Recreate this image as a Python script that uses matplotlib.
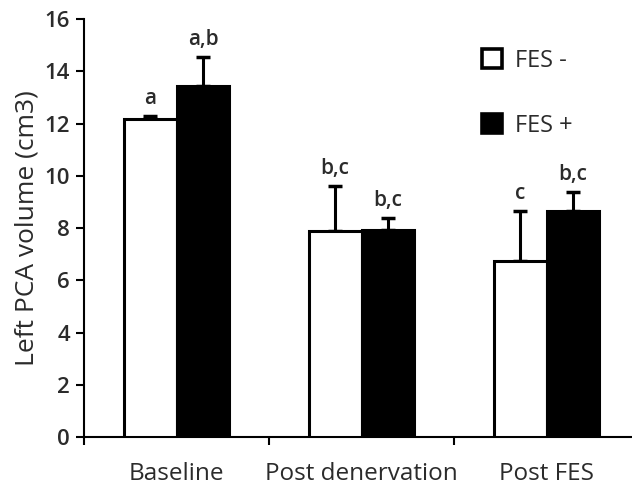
import numpy as np
import matplotlib.pyplot as plt
from matplotlib.patches import Patch

plt.rcParams['font.family'] = ['Open Sans', 'DejaVu Sans']

groups = ["Baseline", "Post denervation", "Post FES"]
fes_minus = [12.18, 7.88, 6.75]
fes_minus_err = [0.11, 1.74, 1.89]
fes_plus = [13.43, 7.94, 8.64]
fes_plus_err = [1.13, 0.45, 0.73]
letters_minus = ["a", "b,c", "c"]
letters_plus = ["a,b", "b,c", "b,c"]

txt = '#2b2b2b'
fig = plt.figure(figsize=(6.32, 4.9), dpi=100)
ax = fig.add_axes([84/632, 1 - 437.3/490, (639 - 84)/632, (437.3 - 19)/490])

x = np.arange(len(groups))
w = 0.286
lw = 2.2

ax.bar(x - w/2, fes_minus, w, color='white', edgecolor='black', linewidth=lw, zorder=3)
ax.bar(x + w/2, fes_plus, w, color='black', edgecolor='black', linewidth=lw, zorder=3)
ax.errorbar(x - w/2, fes_minus, yerr=[np.zeros(3), fes_minus_err], fmt='none',
            ecolor='black', elinewidth=2.2, capsize=5, capthick=2.5, zorder=2)
ax.errorbar(x + w/2, fes_plus, yerr=[np.zeros(3), fes_plus_err], fmt='none',
            ecolor='black', elinewidth=2.2, capsize=5, capthick=2.5, zorder=2)

for i in range(3):
    ax.annotate(letters_minus[i], (x[i] - w/2, fes_minus[i] + fes_minus_err[i]),
                xytext=(0, 5), textcoords='offset points', ha='center', va='bottom',
                fontsize=15, color=txt, fontweight='semibold')
    ax.annotate(letters_plus[i], (x[i] + w/2, fes_plus[i] + fes_plus_err[i]),
                xytext=(0, 5), textcoords='offset points', ha='center', va='bottom',
                fontsize=15, color=txt, fontweight='semibold')

ax.set_xlim(-0.5, 2.5)
ax.set_ylim(0, 16)
ax.set_yticks(np.arange(0, 17, 2))
ax.set_xticks([-0.5, 0.5, 1.5, 2.5])
ax.set_xticklabels([])
ax.set_xticks(x, minor=True)
ax.set_xticklabels(groups, minor=True, fontsize=17.5, color=txt)
ax.tick_params(axis='x', which='minor', length=0, pad=18)
ax.tick_params(axis='x', which='major', direction='out', length=6, width=1.5)
ax.tick_params(axis='y', direction='out', length=6, width=1.5, labelsize=16, labelcolor=txt, pad=4)
for t in ax.get_yticklabels():
    t.set_fontweight('semibold')

for s in ['top', 'right']:
    ax.spines[s].set_visible(False)
for s in ['left', 'bottom']:
    ax.spines[s].set_linewidth(1.5)

ax.set_ylabel("Left PCA volume (cm3)", fontsize=19, color=txt, labelpad=4)

handles = [Patch(facecolor='white', edgecolor='black', linewidth=2.6),
           Patch(facecolor='black', edgecolor='black', linewidth=2.6)]
ax.legend(handles, ["FES -", "FES +"], loc='upper left', bbox_to_anchor=(0.678, 0.98),
          frameon=False, fontsize=17, handlelength=0.85, handleheight=0.85,
          labelspacing=1.75, handletextpad=0.55, labelcolor=txt)

fig.savefig("out.png", dpi=100)
